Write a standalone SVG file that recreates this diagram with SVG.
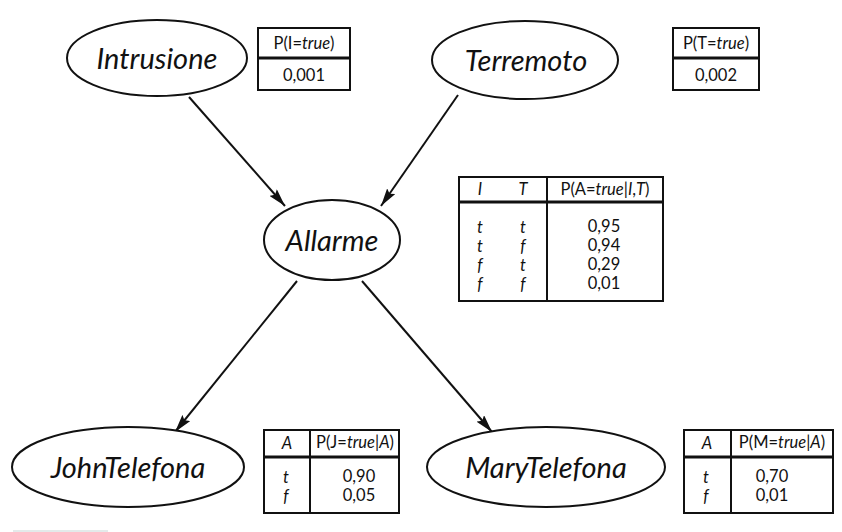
<svg xmlns="http://www.w3.org/2000/svg" width="842" height="532" viewBox="0 0 842 532">
<style>
.node ellipse{fill:#fff;stroke:#111;stroke-width:2}
.lbl{font-family:Lato,"Open Sans","Liberation Sans",sans-serif;font-style:italic;font-size:29px;fill:#111;text-anchor:middle;dominant-baseline:central}
.tb{fill:#fff;stroke:#111;stroke-width:2}
.ln{stroke:#111;stroke-width:2}
.ln3{stroke:#111;stroke-width:3}
.t{font-family:Lato,"Open Sans","Liberation Sans",sans-serif;font-size:16.5px;fill:#111;text-anchor:middle;dominant-baseline:central}
.i{font-style:italic}
.edge{stroke:#111;stroke-width:2;fill:none;marker-end:url(#ah)}
</style>
<defs>
<marker id="ah" viewBox="0 0 18 10" refX="18" refY="5" markerWidth="18" markerHeight="10" markerUnits="userSpaceOnUse" orient="auto">
<path d="M0,0 L18,5 L0,10 L3,5 Z" fill="#111"/>
</marker>
</defs>
<rect width="842" height="532" fill="#fff"/>
<g id="connectors">
<line class="edge" x1="189" y1="97" x2="285" y2="206"/>
<line class="edge" x1="458" y1="95" x2="381" y2="206"/>
<line class="edge" x1="297" y1="281" x2="175" y2="432"/>
<line class="edge" x1="362" y1="281" x2="492" y2="432"/>
</g>
<g id="intrusione" class="node">
<ellipse cx="157" cy="58" rx="90" ry="38"/>
<text class="lbl" x="157" y="57">Intrusione</text>
</g>
<g id="terremoto" class="node">
<ellipse cx="525" cy="60" rx="93" ry="39"/>
<text class="lbl" x="526" y="59">Terremoto</text>
</g>
<g id="allarme" class="node">
<ellipse cx="332" cy="240" rx="68" ry="40"/>
<text class="lbl" x="332" y="239">Allarme</text>
</g>
<g id="johntelefona" class="node">
<ellipse cx="128" cy="467" rx="116" ry="40"/>
<text class="lbl" x="128" y="466">JohnTelefona</text>
</g>
<g id="marytelefona" class="node">
<ellipse cx="546" cy="467" rx="119" ry="40"/>
<text class="lbl" x="546" y="466">MaryTelefona</text>
</g>
<g id="cpt-i">
<rect class="tb" x="258" y="28" width="92" height="62"/>
<line class="ln3" x1="258" y1="58" x2="350" y2="58"/>
<text class="t" x="304" y="43">P(I=<tspan class="i">true</tspan>)</text>
<text class="t" x="304" y="75">0,001</text>
</g>
<g id="cpt-t">
<rect class="tb" x="673" y="28" width="86" height="62"/>
<line class="ln3" x1="673" y1="58" x2="759" y2="58"/>
<text class="t" x="716" y="43">P(T=<tspan class="i">true</tspan>)</text>
<text class="t" x="716" y="75">0,002</text>
</g>
<g id="cpt-a">
<rect class="tb" x="459" y="177" width="204" height="124"/>
<line class="ln3" x1="459" y1="202" x2="663" y2="202"/>
<line class="ln" x1="547" y1="177" x2="547" y2="301"/>
<text class="t i" x="480" y="189">I</text>
<text class="t i" x="523" y="189">T</text>
<text class="t" x="605" y="189">P(A=<tspan class="i">true</tspan>|<tspan class="i">I</tspan>,<tspan class="i">T</tspan>)</text>
<text class="t i" x="480" y="227">t</text><text class="t i" x="523" y="227">t</text><text class="t" x="604" y="226">0,95</text>
<text class="t i" x="480" y="246">t</text><text class="t i" x="523" y="246">f</text><text class="t" x="604" y="245">0,94</text>
<text class="t i" x="480" y="265">f</text><text class="t i" x="523" y="265">t</text><text class="t" x="604" y="264">0,29</text>
<text class="t i" x="480" y="284">f</text><text class="t i" x="523" y="284">f</text><text class="t" x="604" y="283">0,01</text>
</g>
<g id="cpt-j">
<rect class="tb" x="264" y="430" width="135" height="83"/>
<line class="ln3" x1="264" y1="457" x2="399" y2="457"/>
<line class="ln" x1="310" y1="430" x2="310" y2="513"/>
<text class="t i" x="287" y="443">A</text>
<text class="t" x="355" y="442">P(J=<tspan class="i">true</tspan>|<tspan class="i">A</tspan>)</text>
<text class="t i" x="286" y="477">t</text><text class="t" x="359" y="476">0,90</text>
<text class="t i" x="286" y="496">f</text><text class="t" x="359" y="495">0,05</text>
</g>
<g id="cpt-m">
<rect class="tb" x="684" y="430" width="149" height="83"/>
<line class="ln3" x1="684" y1="457" x2="833" y2="457"/>
<line class="ln" x1="731" y1="430" x2="731" y2="513"/>
<text class="t i" x="707" y="443">A</text>
<text class="t" x="782" y="442">P(M=<tspan class="i">true</tspan>|<tspan class="i">A</tspan>)</text>
<text class="t i" x="706" y="477">t</text><text class="t" x="772" y="476">0,70</text>
<text class="t i" x="706" y="496">f</text><text class="t" x="772" y="495">0,01</text>
</g>
<rect x="13" y="530" width="95" height="2" fill="#e3eaea"/>
</svg>
